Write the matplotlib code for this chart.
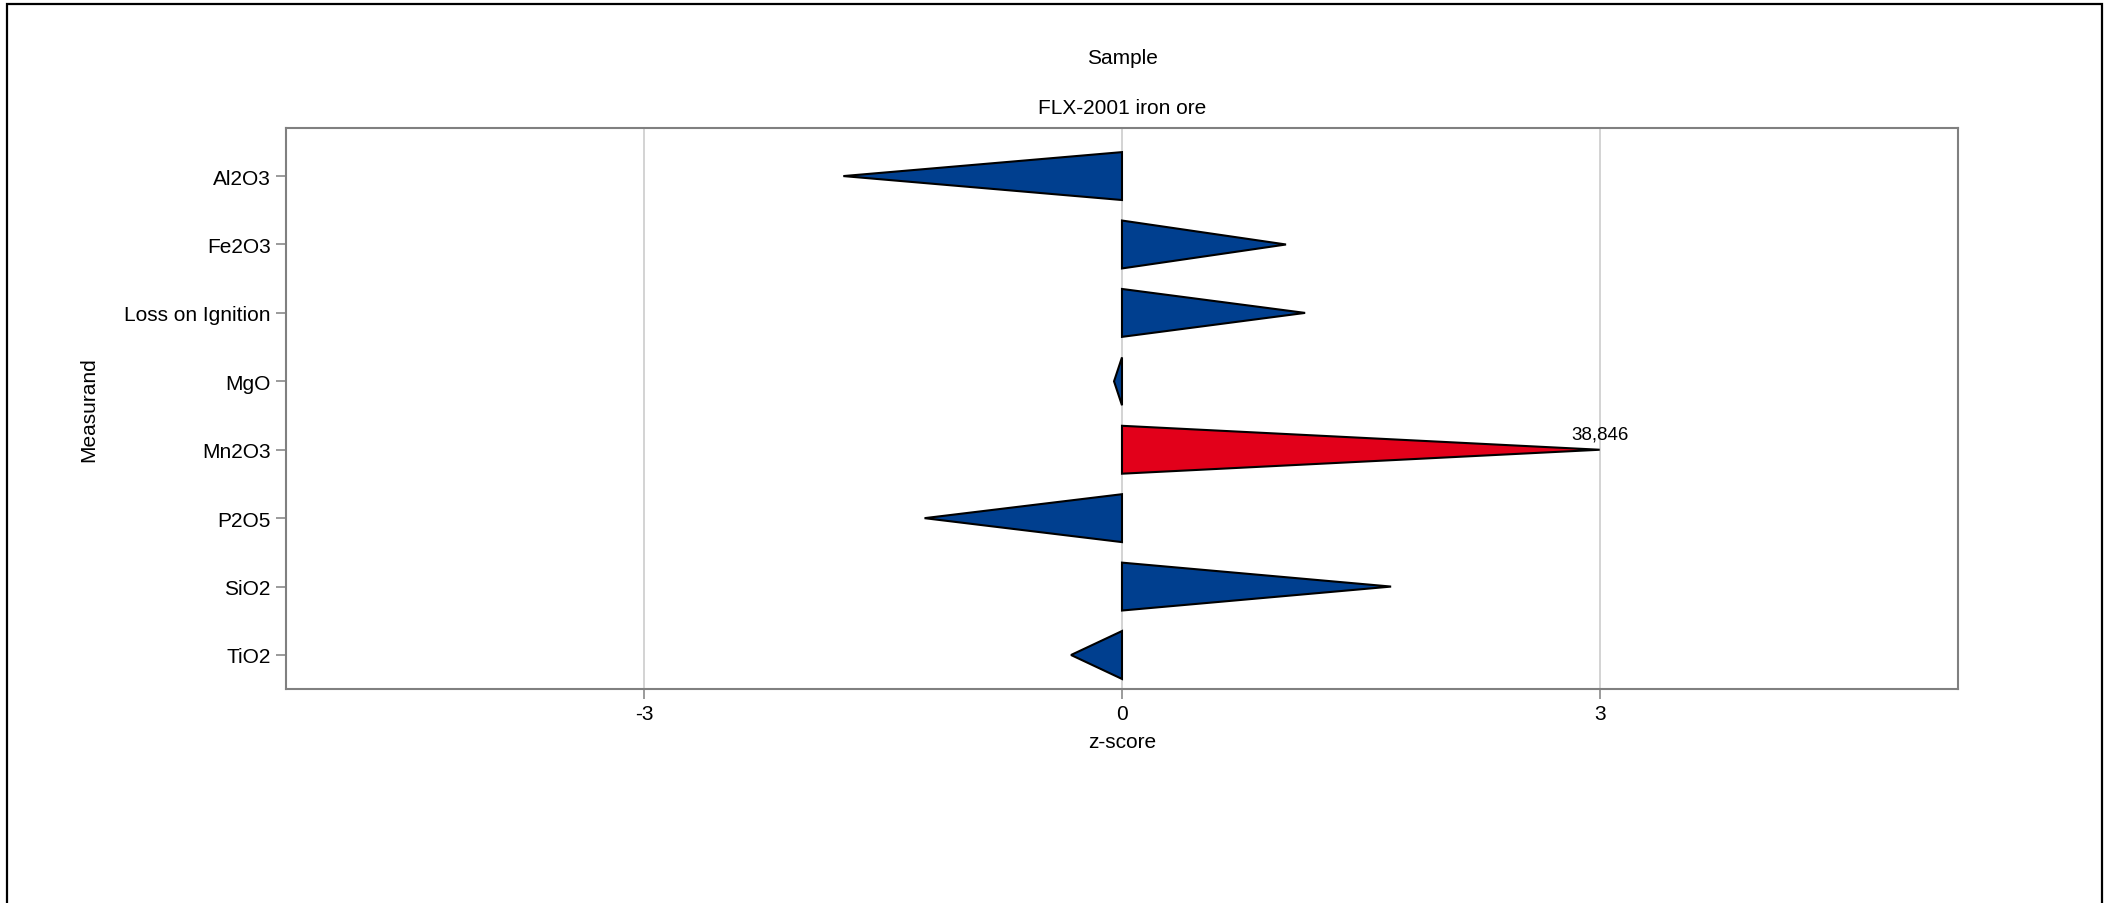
import numpy as np
import matplotlib.pyplot as plt
from matplotlib.patches import Polygon, Rectangle

plt.rcParams['font.family'] = ['Liberation Sans', 'DejaVu Sans']

# z-scores per measurand
measurands = ['Al2O3', 'Fe2O3', 'Loss on Ignition', 'MgO', 'Mn2O3', 'P2O5', 'SiO2', 'TiO2']
z_scores = [-1.75, 1.03, 1.15, -0.05, 38.846, -1.24, 1.69, -0.32]
z_cap = 3.0
x_ticks = [-3, 0, 3]

blue = '#003f8f'
red = '#e2001a'

fig = plt.figure(figsize=(21.09, 9.04), dpi=100)
ax = fig.add_axes([0.1356, 0.2365, 0.7928, 0.6206])

half = 0.35
for i, z in enumerate(z_scores):
    tip = float(np.clip(z, -z_cap, z_cap))
    color = red if abs(z) > z_cap else blue
    tri = Polygon([(0, i - half), (0, i + half), (tip, i)], closed=True,
                  facecolor=color, edgecolor='black', linewidth=1.5, zorder=3)
    ax.add_patch(tri)
    if abs(z) > z_cap:
        # value is off scale: write the real number at the tip
        ax.annotate(f'{z:.3f}'.replace('.', ','), (tip, i), xytext=(0, 5),
                    textcoords='offset points', ha='center', va='bottom',
                    fontsize=13.5, zorder=4)

ax.set_xlim(-5.25, 5.25)
ax.set_ylim(7.5, -0.7)
ax.set_yticks(range(len(measurands)))
ax.set_yticklabels(measurands, fontsize=15)
ax.set_xticks(x_ticks)
ax.set_xticklabels([str(t) for t in x_ticks], fontsize=15)
ax.grid(axis='x', color='#c8c8c8', linewidth=1.1, zorder=0)
ax.set_axisbelow(True)
ax.tick_params(direction='out', length=7.5, width=1.1, color='#808080', pad=3.5)
for sp in ax.spines.values():
    sp.set_color('#808080')
    sp.set_linewidth(1.5)

ax.set_xlabel('z-score', fontsize=15, labelpad=6)
ax.set_ylabel('Measurand', fontsize=15, labelpad=19)

fig.text(1122 / 2109, 1 - 58 / 904, 'Sample', ha='center', va='center', fontsize=15)
fig.text(1122 / 2109, 1 - 108 / 904, 'FLX-2001 iron ore', ha='center', va='center', fontsize=15)

# outer frame, open at the bottom edge of the image
fig.patches.append(Rectangle((7 / 2109, -0.05), (2102 - 7) / 2109, 1.05 - 5 / 904,
                             transform=fig.transFigure, fill=False,
                             edgecolor='black', linewidth=1.6))

fig.savefig('out.png', dpi=100)
